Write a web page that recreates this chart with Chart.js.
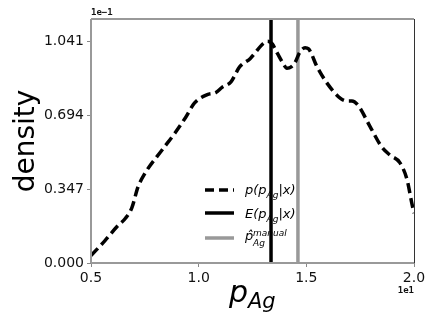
<!DOCTYPE html>
<html>
<head>
<meta charset="utf-8">
<script src="https://cdn.jsdelivr.net/npm/chart.js@4/dist/chart.umd.min.js"></script>
<style>
html, body { margin: 0; padding: 0; background: #fff; }
#wrap { width: 436px; height: 326px; }
</style>
</head>
<body>
<div id="wrap"><canvas id="myChart" width="436" height="326"></canvas></div>
<script>
// posterior density of p_Ag (x in units of 1e1, y in units of 1e-1)
var pAg = [0.5, 0.565, 0.62, 0.66, 0.69, 0.718, 0.75, 0.83, 0.89, 0.94, 0.98, 1.04, 1.08, 1.11, 1.15, 1.19, 1.24, 1.30, 1.32, 1.34, 1.365, 1.39, 1.41, 1.43, 1.447, 1.47, 1.494, 1.51, 1.55, 1.596, 1.657, 1.69, 1.712, 1.74, 1.796, 1.85, 1.889, 1.935, 1.968, 1.99, 2.0];
var density = [0.035, 0.105, 0.17, 0.21, 0.26, 0.356, 0.42, 0.53, 0.61, 0.684, 0.75, 0.79, 0.80, 0.825, 0.85, 0.92, 0.96, 1.03, 1.041, 1.03, 0.985, 0.94, 0.914, 0.92, 0.94, 0.99, 1.01, 1.005, 0.92, 0.844, 0.774, 0.76, 0.76, 0.74, 0.64, 0.545, 0.506, 0.47, 0.39, 0.28, 0.234];
var meanPAg = 1.336;
var manualPAg = 1.461;
var yTicks = [0.000, 0.347, 0.694, 1.041];
var xTicks = [0.5, 1.0, 1.5, 2.0];
var yMax = 1.145;

var curva = [];
for (var i = 0; i < pAg.length; i++) {
    curva.push({x: pAg[i], y: density[i]});
}

var mathFont = 'italic 13px "DejaVu Sans"';
var subFont = 'italic 9px "DejaVu Sans"';

function escribir(ctx, partes, x, y)
{
    // partes: [texto, tipo] tipo = 0 normal, 1 subindice, 2 superindice
    partes.forEach(function(p) {
        var dy = 0;
        if (p[1] == 0) ctx.font = mathFont;
        else ctx.font = subFont;
        if (p[1] == 1) dy = 4;
        if (p[1] == 2) dy = -6;
        ctx.fillText(p[0], x, y + dy);
        x += ctx.measureText(p[0]).width;
    });
}

var extras = {
    id: 'extras',
    beforeDatasetsDraw: function(chart) {
        var ctx = chart.ctx;
        ctx.save();
        ctx.fillStyle = '#000';
        ctx.textBaseline = 'alphabetic';
        ctx.textAlign = 'left';
        // leyenda
        ctx.lineWidth = 3.5;
        ctx.strokeStyle = '#000';
        ctx.setLineDash([9, 5]);
        ctx.beginPath(); ctx.moveTo(205, 190); ctx.lineTo(234, 190); ctx.stroke();
        ctx.setLineDash([]);
        ctx.beginPath(); ctx.moveTo(205, 213); ctx.lineTo(234, 213); ctx.stroke();
        ctx.strokeStyle = '#999';
        ctx.beginPath(); ctx.moveTo(205, 238); ctx.lineTo(234, 238); ctx.stroke();
        escribir(ctx, [['p(p', 0], ['Ag', 1], ['|x)', 0]], 245, 194);
        escribir(ctx, [['E(p', 0], ['Ag', 1], ['|x)', 0]], 245, 218);
        ctx.font = mathFont;
        ctx.fillText('p\u0302', 245, 240);
        ctx.font = subFont;
        ctx.fillText('manual', 253, 236);
        ctx.fillText('Ag', 253, 246);
        ctx.restore();
    },
    afterDraw: function(chart) {
        var ctx = chart.ctx;
        var a = chart.chartArea;
        ctx.save();
        // marco
        ctx.lineWidth = 2;
        ctx.strokeStyle = '#999';
        ctx.beginPath();
        ctx.moveTo(a.left, a.top); ctx.lineTo(a.right, a.top);
        ctx.moveTo(a.left, a.top); ctx.lineTo(a.left, a.bottom);
        ctx.moveTo(a.left, a.bottom); ctx.lineTo(a.right, a.bottom);
        ctx.stroke();
        ctx.lineWidth = 1;
        ctx.strokeStyle = '#333';
        ctx.beginPath(); ctx.moveTo(a.right + 0.5, a.top); ctx.lineTo(a.right + 0.5, a.bottom); ctx.stroke();
        // textos
        ctx.fillStyle = '#111';
        ctx.font = 'bold 9px "DejaVu Sans Mono"';
        ctx.textAlign = 'left';
        ctx.fillText('1e\u22121', a.left, a.top - 4);
        ctx.textAlign = 'right';
        ctx.fillText('1e1', a.right, 293);
        ctx.fillStyle = '#000';
        ctx.textAlign = 'left';
        ctx.font = 'italic 30px "DejaVu Sans"';
        ctx.fillText('p', 229, 302);
        ctx.font = 'italic 21px "DejaVu Sans"';
        ctx.fillText('Ag', 248, 308);
        ctx.translate(34, 141);
        ctx.rotate(-Math.PI / 2);
        ctx.textAlign = 'center';
        ctx.font = '28px "DejaVu Sans"';
        ctx.fillText('density', 0, 0);
        ctx.restore();
    }
};

var ctx = document.getElementById('myChart').getContext('2d');
var chart = new Chart(ctx, {
    type: 'line',
    data: {
        datasets: [
            {data: curva, borderColor: '#000', borderWidth: 3.5, borderDash: [10, 5], pointRadius: 0, cubicInterpolationMode: 'monotone', fill: false},
            {data: [{x: meanPAg, y: 0}, {x: meanPAg, y: yMax}], borderColor: '#000', borderWidth: 3.5, pointRadius: 0},
            {data: [{x: manualPAg, y: 0}, {x: manualPAg, y: yMax}], borderColor: '#999', borderWidth: 3.5, pointRadius: 0}
        ]
    },
    options: {
        responsive: false,
        animation: false,
        layout: {padding: {left: 0, top: 19, right: 22, bottom: 0}},
        plugins: {legend: {display: false}, tooltip: {enabled: false}},
        scales: {
            x: {
                type: 'linear', min: 0.5, max: 2.0,
                afterBuildTicks: function(s) { s.ticks = xTicks.map(function(v) { return {value: v}; }); },
                afterFit: function(s) { s.height = 63; },
                border: {display: false},
                grid: {drawOnChartArea: false, tickLength: 4, color: '#888', tickWidth: 1},
                ticks: {padding: 3, color: '#111', font: {family: 'DejaVu Sans', size: 14}, maxRotation: 0,
                        callback: function(v) { return v.toFixed(1); }}
            },
            y: {
                min: 0, max: yMax,
                afterBuildTicks: function(s) { s.ticks = yTicks.map(function(v) { return {value: v}; }); },
                afterFit: function(s) { s.width = 91; },
                border: {display: false},
                grid: {drawOnChartArea: false, tickLength: 4, color: '#888', tickWidth: 1},
                ticks: {padding: 3, color: '#111', font: {family: 'DejaVu Sans', size: 14},
                        callback: function(v) { return v.toFixed(3); }}
            }
        }
    },
    plugins: [extras]
});
</script>
</body>
</html>
